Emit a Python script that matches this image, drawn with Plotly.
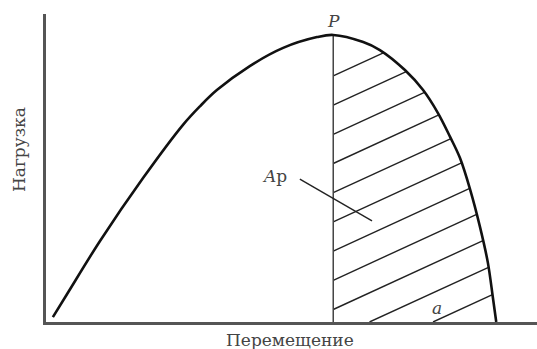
import numpy as np
import plotly.graph_objs as go

# load-displacement curve (axis units 0..10)
rise_disp = [0.14, 0.43, 1.10, 1.98, 2.79, 3.14, 3.48, 4.15, 4.83, 5.52, 5.85]
rise_load = [0.16, 0.91, 2.63, 4.68, 6.40, 7.01, 7.53, 8.31, 8.90, 9.25, 9.32]
fall_disp = [5.85, 6.46, 6.80, 7.31, 7.68, 7.98, 8.23, 8.43, 8.64, 8.84, 9.00, 9.10, 9.17]
fall_load = [9.32, 9.09, 8.83, 8.18, 7.53, 6.79, 6.01, 5.33, 4.29, 3.08, 1.92, 0.81, 0.00]

# hatching of the post-peak area A_p
hatch_slope = 0.733
hatch_step = 0.948
hatch_top = 7.99
hatch_count = 11

W, H = 537, 349
ML, MT, MB = 46, 14, 27
INK = "#222222"
AXIS = "#555555"
TEXT = "#444444"
SERIF = "DejaVu Serif"

xp, yp = fall_disp[0], fall_load[0]


def paper(px, py):
    # page pixel -> paper coords of the plot area
    return (px - ML) / (W - ML), (H - MB - py) / (H - MT - MB)


def hatch_traces():
    fx = np.array(fall_disp)
    fy = np.array(fall_load)
    traces = []
    for k in range(hatch_count):
        y0 = hatch_top - k * hatch_step
        if y0 >= 0:
            x_start, y_start = xp, y0
        else:
            x_start, y_start = xp - y0 / hatch_slope, 0.0
        xs = np.linspace(xp, fx[-1], 4000)
        curve = np.interp(xs, fx, fy)
        line = y0 + hatch_slope * (xs - xp)
        diff = curve - line
        idx = np.where((diff[:-1] > 0) & (diff[1:] <= 0))[0]
        if len(idx) == 0:
            continue
        x_end = xs[idx[0]]
        y_end = y0 + hatch_slope * (x_end - xp)
        traces.append(go.Scatter(
            x=[x_start, x_end], y=[y_start, y_end], mode="lines",
            line=dict(color=INK, width=1.4), showlegend=False, hoverinfo="skip"
        ))
    return traces


fig = go.Figure()

for t in hatch_traces():
    fig.add_trace(t)

# vertical line through the peak
fig.add_trace(go.Scatter(
    x=[xp, xp], y=[0, yp], mode="lines",
    line=dict(color="#444444", width=1.5), showlegend=False, hoverinfo="skip"
))

# the curve itself
fig.add_trace(go.Scatter(
    x=rise_disp + fall_disp[1:], y=rise_load + fall_load[1:], mode="lines",
    line=dict(color="#111111", width=2.6, shape="spline", smoothing=1.0),
    showlegend=False, name="Нагрузка"
))

# leader line for A_p
fig.add_shape(type="line", x0=5.17, y0=4.64, x1=6.64, y1=3.28,
              line=dict(color=INK, width=1.4))

fig.add_annotation(x=xp, y=yp, text="<i>P</i>", showarrow=False,
                   yanchor="bottom", yshift=2,
                   font=dict(family=SERIF, size=17, color=TEXT))
fig.add_annotation(x=4.66, y=4.74, text="<i>A</i>р", showarrow=False,
                   font=dict(family=SERIF, size=17, color=TEXT))
fig.add_annotation(x=7.96, y=0.46, text="<i>a</i>", showarrow=False,
                   font=dict(family=SERIF, size=17, color=TEXT))

px_, py_ = paper(290, 340)
fig.add_annotation(x=px_, y=py_, xref="paper", yref="paper",
                   xanchor="center", yanchor="middle",
                   text="Перемещение", showarrow=False,
                   font=dict(family=SERIF, size=17, color=TEXT))
px_, py_ = paper(19, 150)
fig.add_annotation(x=px_, y=py_, xref="paper", yref="paper",
                   xanchor="center", yanchor="middle",
                   text="Нагрузка", showarrow=False, textangle=-90,
                   font=dict(family=SERIF, size=17, color=TEXT))

fig.update_layout(
    width=W, height=H,
    margin=dict(l=ML, r=0, t=MT, b=MB),
    paper_bgcolor="white", plot_bgcolor="white",
    xaxis=dict(range=[0, 10], showgrid=False, zeroline=False, showticklabels=False,
               ticks="", showline=True, linecolor=AXIS, linewidth=2.5),
    yaxis=dict(range=[0, 10], showgrid=False, zeroline=False, showticklabels=False,
               ticks="", showline=True, linecolor=AXIS, linewidth=2.5),
)

fig.write_html("out.html", config={"displayModeBar": False},
               post_script="document.body.style.margin='0';")
